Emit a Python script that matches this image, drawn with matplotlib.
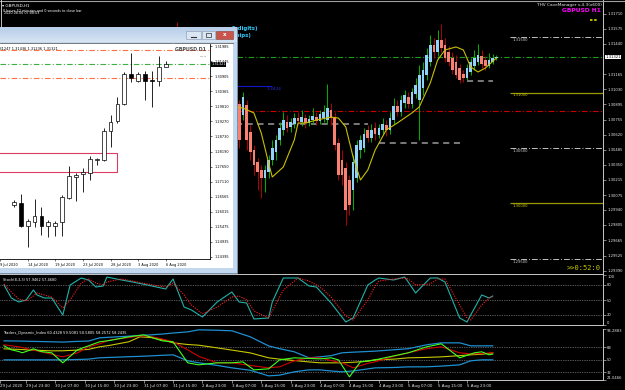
import numpy as np
import matplotlib
matplotlib.use("Agg")
import matplotlib.pyplot as plt
from matplotlib.patches import Rectangle
from matplotlib.lines import Line2D
from matplotlib.colors import LinearSegmentedColormap
from matplotlib.transforms import blended_transform_factory as blend

# ---------------- H1 chart (main window) ----------------
h1_bar = [46, 47, 48] + list(range(62, 135))
h1_open = [1.31339, 1.31520, 1.31385,
           1.30843, 1.30861, 1.30897, 1.30798, 1.30888, 1.30644, 1.30481, 1.30373, 1.30301, 1.30229,
           1.30283, 1.30391, 1.30463, 1.30572, 1.30662, 1.30734, 1.30689, 1.30716, 1.30770, 1.30734,
           1.30770, 1.30725, 1.30752, 1.30779, 1.30743, 1.30770, 1.30752, 1.30843, 1.30770, 1.30545,
           1.30391, 1.30319, 1.30211, 1.30120, 1.30229, 1.30481, 1.30500, 1.30662, 1.30590, 1.30680,
           1.30617, 1.30662, 1.30707, 1.30662, 1.30752, 1.30879, 1.30825, 1.30906, 1.30960, 1.30897,
           1.30987, 1.30933, 1.31041, 1.31159, 1.31276, 1.31430, 1.31366, 1.31475, 1.31430, 1.31366,
           1.31312, 1.31276, 1.31222, 1.31168, 1.31132, 1.31186, 1.31240, 1.31276, 1.31330, 1.31294,
           1.31240, 1.31276, 1.31312]
h1_high = [1.31565, 1.31637, 1.31475,
           1.30933, 1.30951, 1.30933, 1.31005, 1.30933, 1.30707, 1.30527, 1.30409, 1.30346, 1.30346,
           1.30436, 1.30572, 1.30617, 1.30734, 1.30825, 1.30798, 1.30770, 1.30816, 1.30825, 1.30843,
           1.30807, 1.30798, 1.30861, 1.30825, 1.30843, 1.30888, 1.31078, 1.30906, 1.30825, 1.30590,
           1.30481, 1.30373, 1.30256, 1.30436, 1.30572, 1.30617, 1.30680, 1.30707, 1.30716, 1.30734,
           1.30716, 1.30770, 1.30752, 1.30825, 1.30951, 1.30933, 1.30978, 1.31023, 1.31005, 1.31041,
           1.31132, 1.31249, 1.31276, 1.31403, 1.31520, 1.31493, 1.31565, 1.31619, 1.31493, 1.31421,
           1.31366, 1.31339, 1.31258, 1.31204, 1.31258, 1.31312, 1.31385, 1.31439, 1.31385, 1.31330,
           1.31357, 1.31348, 1.31339]
h1_low = [1.31294, 1.31294, 1.31159,
          1.30770, 1.30825, 1.30500, 1.30752, 1.30481, 1.30391, 1.30256, 1.30120, 1.30048, 1.30102,
          1.30229, 1.30346, 1.30391, 1.30527, 1.30617, 1.30644, 1.30644, 1.30680, 1.30707, 1.30698,
          1.30680, 1.30698, 1.30716, 1.30707, 1.30716, 1.30734, 1.30716, 1.30707, 1.30481, 1.30211,
          1.30165, 1.29804, 1.29895, 1.29940, 1.30193, 1.30409, 1.30463, 1.30554, 1.30554, 1.30572,
          1.30590, 1.30626, 1.30608, 1.30626, 1.30716, 1.30789, 1.30789, 1.30861, 1.30861, 1.30861,
          1.30951, 1.30572, 1.30978, 1.31114, 1.31240, 1.31312, 1.31330, 1.31366, 1.31276, 1.31240,
          1.31168, 1.31132, 1.31087, 1.31096, 1.31114, 1.31159, 1.31204, 1.31249, 1.31222, 1.31204,
          1.31222, 1.31258, 1.31294]
h1_close = [1.31520, 1.31385, 1.31204,
            1.30888, 1.30897, 1.30572, 1.30960, 1.30572, 1.30463, 1.30346, 1.30283, 1.30229, 1.30301,
            1.30391, 1.30500, 1.30572, 1.30680, 1.30752, 1.30680, 1.30734, 1.30770, 1.30743, 1.30779,
            1.30725, 1.30761, 1.30789, 1.30743, 1.30807, 1.30825, 1.30861, 1.30770, 1.30527, 1.30256,
            1.30256, 1.29940, 1.29985, 1.30373, 1.30527, 1.30572, 1.30626, 1.30590, 1.30662, 1.30626,
            1.30680, 1.30716, 1.30662, 1.30770, 1.30879, 1.30825, 1.30933, 1.30978, 1.30897, 1.31005,
            1.31068, 1.31159, 1.31204, 1.31339, 1.31430, 1.31366, 1.31475, 1.31403, 1.31312, 1.31276,
            1.31204, 1.31159, 1.31114, 1.31132, 1.31222, 1.31276, 1.31312, 1.31339, 1.31258, 1.31240,
            1.31294, 1.31312, 1.31321]

ma_bar = [63, 65, 68, 70, 72, 73, 76, 79, 80, 82, 85, 89, 91, 93, 95, 97, 99, 101, 104, 107,
          111, 113, 116, 118, 120, 123, 125, 127, 129, 131, 134]
ma_val = [1.30870, 1.30861, 1.30816, 1.30635, 1.30365, 1.30238, 1.30328, 1.30572, 1.30725, 1.30725,
          1.30752, 1.30779, 1.30770, 1.30689, 1.30418, 1.30211, 1.30301, 1.30481, 1.30662, 1.30725,
          1.30816, 1.30870, 1.31087, 1.31294, 1.31385, 1.31412, 1.31385, 1.31231, 1.31186, 1.31222,
          1.31312]

price_ticks = [1.31710, 1.31575, 1.31440, 1.31165, 1.31030, 1.30895, 1.30755, 1.30620, 1.30485,
               1.30350, 1.30215, 1.30075, 1.29940, 1.29805, 1.29665, 1.29525, 1.29390]
last_price = 1.31321
prev_low = 1.30830
round_levels = [1.31500, 1.31000, 1.30500, 1.30000, 1.29500]
round_kind = ["quarter", "half", "quarter", "half", "quarter"]
grey_seg_level = [1.30716, 1.30545, 1.31105]
grey_seg_from = [63, 102, 126]
grey_seg_to = [99, 124, 133]
blue_level = 1.31060

date_bars = [-1, 6, 14, 22, 30, 38, 46, 54, 62, 70, 78, 86, 94, 102, 110, 118, 126]
date_labels = ["29 Jul 2020", "29 Jul 23:00", "30 Jul 07:00", "30 Jul 15:00", "30 Jul 23:00",
               "31 Jul 07:00", "31 Jul 15:00", "2 Aug 23:00", "3 Aug 07:00", "3 Aug 15:00",
               "3 Aug 23:00", "4 Aug 07:00", "4 Aug 15:00", "4 Aug 23:00", "5 Aug 07:00",
               "5 Aug 15:00", "5 Aug 23:00"]

# ---------------- Stochastic ----------------
st_bar = [0, 2, 4, 6, 8, 9, 11, 13, 16, 18, 21, 23, 25, 27, 28, 32, 35, 39, 44, 46,
          49, 51, 54, 58, 62, 64, 66, 68, 72, 73, 76, 80, 83, 85, 87, 89, 93, 95, 99, 101,
          102, 106, 109, 110, 112, 116, 118, 120, 124, 126, 127, 130, 132, 133]
st_main = [80, 54, 46, 50, 70, 60, 54, 54, 20, 80, 94, 90, 76, 78, 96, 90, 86, 80, 72, 92,
           36, 30, 16, 46, 66, 46, 44, 12, 14, 46, 94, 94, 78, 76, 60, 44, 6, 14, 80, 90,
           94, 90, 96, 86, 64, 94, 94, 86, 14, 6, 20, 60, 54, 58]
st_sig = [82, 66, 52, 48, 58, 64, 60, 56, 34, 50, 84, 92, 84, 80, 86, 92, 88, 82, 76, 84,
          60, 40, 22, 36, 56, 58, 50, 28, 14, 28, 70, 94, 88, 80, 70, 56, 18, 10, 50, 78,
          88, 92, 94, 92, 80, 82, 92, 92, 40, 14, 10, 40, 54, 57]

# ---------------- Traders Dynamic Index ----------------
tdi_bar = [0, 4, 8, 13, 16, 20, 23, 26, 29, 34, 37, 40, 43, 46, 50, 53, 58, 62, 67, 72,
           75, 79, 83, 86, 89, 92, 95, 99, 101, 106, 110, 115, 119, 124, 127, 130, 133]
tdi_up = [77.3, 77.0, 76.5, 75.9, 75.5, 76.5, 77.0, 81.6, 82.5, 84.0, 85.0, 85.9, 87.0, 88.5,
          90.2, 93.1, 92.5, 91.7, 83.1, 70.0, 66.0, 61.5, 52.9, 54.3, 56.0, 60.1, 61.0, 62.0,
          62.5, 64.4, 66.0, 71.6, 74.4, 74.4, 70.1, 70.1, 70.1]
tdi_dn = [50, 50, 50, 50, 50, 50.5, 51, 52.9, 53.5, 54.5, 55, 55.7, 56.5, 57.2, 48.6, 45.7,
          42, 38.5, 35, 27, 28, 32.8, 35.6, 35.6, 34, 32.8, 34, 37, 38.5, 39, 39.9, 40, 41,
          42.8, 48.6, 50, 50]
tdi_mid = [65.8, 65, 64, 62.9, 63, 64, 65, 68.7, 71, 76, 83.1, 82, 79, 74.4, 72, 71, 67.2,
           64, 60, 52.9, 51, 49, 47, 45.7, 45.7, 45.7, 46.5, 48, 50, 51, 52.9, 53.5, 54.3,
           56, 57.2, 58, 60]
tdi_sig = [71.6, 68.7, 64, 58, 54.3, 60, 68.7, 73, 78.7, 82, 84.5, 83.5, 80, 75.9, 64.4, 55,
           45.7, 45.7, 42, 38.5, 40, 48.6, 52.9, 52.9, 49, 45.7, 38.5, 45, 47.1, 55, 60.1,
           66, 68.7, 60.1, 58.6, 59, 60.1]
rsi_bar = [0, 2, 4, 5, 8, 10, 13, 16, 20, 26, 29, 34, 38, 43, 46, 50, 53, 58, 62, 65,
           68, 72, 75, 79, 86, 89, 91, 94, 97, 101, 110, 115, 119, 124, 128, 130, 132, 133]
rsi_val = [70.1, 64.4, 62, 60.1, 65.8, 62, 60.1, 45.7, 64.4, 75.9, 78, 83.1, 85.9, 77.3,
           75.9, 45.7, 42.8, 45.7, 45.7, 47.1, 35.6, 37.1, 50, 52.9, 51.4, 52.9, 50, 25.6,
           47.1, 50, 60.1, 68.7, 73, 52.9, 60.1, 61.5, 57.2, 58.3]

# ---------------- D1 chart (floating window) ----------------
d1_open = [1.26266, 1.26338, 1.25511, 1.25655, 1.25870, 1.25511, 1.25511, 1.25655, 1.26518,
           1.27273, 1.27381, 1.27417, 1.27884, 1.27884, 1.28928, 1.29287, 1.29899, 1.30978,
           1.30726, 1.30978, 1.30762, 1.30726, 1.31247]
d1_high = [1.26446, 1.26661, 1.25763, 1.26482, 1.26194, 1.25727, 1.25691, 1.26626, 1.27669,
           1.27417, 1.27597, 1.28028, 1.27956, 1.29035, 1.29503, 1.30151, 1.31050, 1.31733,
           1.31050, 1.31086, 1.31086, 1.31625, 1.31436]
d1_low = [1.26194, 1.25475, 1.24755, 1.25475, 1.25187, 1.25115, 1.25151, 1.25151, 1.26482,
          1.26410, 1.26733, 1.27165, 1.27705, 1.27848, 1.28352, 1.29215, 1.29863, 1.30690,
          1.30690, 1.30043, 1.29791, 1.30546, 1.31236]
d1_close = [1.26374, 1.25511, 1.25691, 1.25870, 1.25511, 1.25655, 1.25619, 1.26554, 1.27309,
            1.27345, 1.27453, 1.27920, 1.27920, 1.28928, 1.29251, 1.29899, 1.30978, 1.30834,
            1.30978, 1.30726, 1.30726, 1.31230, 1.31321]
d1_ticks = [1.31985, 1.31445, 1.30905, 1.30365, 1.29810, 1.29270, 1.28730, 1.28190, 1.27650,
            1.27110, 1.26565, 1.26015, 1.25475, 1.24935, 1.24395]
d1_date_idx = [-2, 2, 6, 10, 14, 18, 22]
d1_date_labels = ["9 Jul 2020", "14 Jul 2020", "19 Jul 2020", "23 Jul 2020", "28 Jul 2020",
                  "3 Aug 2020", "6 Aug 2020"]
d1_orange = [1.31840, 1.30830]
zone_lo, zone_hi = 1.27453, 1.28136
zone_left, zone_right = -6, 14.9

# ------------------------------------------------------------------
W, H = 625, 390
fig = plt.figure(figsize=(W / 100, H / 100), dpi=100, facecolor="black")
plt.rcParams["font.family"] = "DejaVu Sans"
GREY = "#c8c8c8"
LBL = 2.7


def px_axes(x, y, w, h, z=1):
    ax = fig.add_axes([x / W, 1 - (y + h) / H, w / W, h / H])
    ax.set_zorder(z)
    return ax


def fxy(x, y):
    return x / W, 1 - y / H


axp = px_axes(0, 0, 603, 274)
axs = px_axes(0, 275, 603, 50)
axt = px_axes(0, 329, 603, 51)
for ax in (axp, axs, axt):
    ax.set_facecolor("black")
    ax.set_xlim(-1.09, 163.0)
    ax.spines["left"].set_visible(False)
    ax.spines["top"].set_visible(False)
    for s in ("right", "bottom"):
        ax.spines[s].set_color(GREY)
        ax.spines[s].set_linewidth(0.7)
    ax.yaxis.tick_right()
    ax.tick_params(axis="y", colors="#e8e8e8", labelsize=LBL, length=2, width=0.4, pad=1)
    ax.tick_params(axis="x", bottom=False, labelbottom=False)

# ---- price pane
axp.set_ylim(1.29362, 1.31836)
axp.set_yticks(price_ticks)
axp.set_yticklabels([f"{v:.5f}" for v in price_ticks])

dd = (0, (5, 2, 1, 2))
axp.axhline(last_price, xmin=237 / 603, color="#1a9e1a", lw=0.8, ls=dd, zorder=1)
axp.axhline(prev_low, xmin=237 / 603, color="#c80000", lw=0.8, ls=dd, zorder=1)
for lv, a, b in zip(grey_seg_level, grey_seg_from, grey_seg_to):
    axp.hlines(lv, a, b, colors="#9a9a9a", lw=1.1, ls=(0, (4, 3)), zorder=1)
axp.hlines(blue_level, 55, 73, colors="#1515c8", lw=0.8, zorder=2)
axp.text(71.5, blue_level - 0.00012, "1.3426", color="#2a2ad0", fontsize=3.2, va="top", zorder=2)

for lv, kind in zip(round_levels, round_kind):
    if kind == "half":
        axp.hlines(lv, 137.8, 163, colors="#9a9a00", lw=0.9, zorder=2)
        col = "#c8c800"
    else:
        axp.hlines(lv, 137.8, 163, colors="#c0c0c0", lw=0.7, ls=(0, (6, 2, 1, 2)), zorder=2)
        col = "#d0d0d0"
    axp.annotate(f"{lv:.5f}", (138.3, lv), xytext=(0, -0.6), textcoords="offset points",
                 va="top", ha="left", fontsize=LBL, color=col)

axp.hlines(1.31655, 159.4, 161.6, colors="#d8d800", lw=1.2, ls=(0, (1.5, 1)))

o, hi, lo, c = map(np.array, (h1_open, h1_high, h1_low, h1_close))
up = c >= o
axp.vlines(h1_bar, lo, hi, colors=np.where(up, "#00b400", "#b40000"), lw=0.7, zorder=3)
axp.bar(h1_bar, np.maximum(np.abs(c - o), 0.00004), bottom=np.minimum(o, c), width=0.72,
        color=np.where(up, "#8fd3f8", "#fa8072"), lw=0, zorder=4)
axp.plot(ma_bar, ma_val, color="#c8c000", lw=0.8, zorder=5)

tr = blend(axp.transAxes, axp.transData)
axp.text(1.004, last_price, f"{last_price:.5f}", transform=tr, fontsize=LBL, color="black",
         va="center", ha="left", bbox=dict(boxstyle="square,pad=0.12", fc="white", ec="none"))

# info texts of the main chart, partly hidden by the floating window
axp.text(*fxy(258, 26.2), " 5 digits)", transform=fig.transFigure,
         color="#33ccff", fontsize=3.9, fontweight="bold", ha="right", va="top")
axp.text(*fxy(251, 32.5), "(pips)", transform=fig.transFigure,
         color="#33ccff", fontsize=3.9, fontweight="bold", ha="right", va="top")

fig.text(*fxy(2, 6), "\u25be GBPUSD,H1", color="white", fontsize=3.0, va="center")
fig.text(*fxy(3, 11), "0 hours 52 minutes and 0 seconds to close bar", color="white",
         fontsize=2.4, va="center")
fig.text(*fxy(4, 13.5), "2020.08.06 07:08:03", color="white", fontsize=2.4, va="center")
fig.text(*fxy(602, 5), "THV CaveManager v.4.3(x600)", color="#e8e8e8", fontsize=3.1,
         ha="right", va="center")
fig.text(*fxy(601, 11), "GBPUSD H1", color="#ff00ff", fontsize=4.3, fontweight="bold",
         ha="right", va="center")
fig.text(*fxy(567, 268), ">>0:52:0", color="#c8c800", fontsize=5, family="DejaVu Sans Mono",
         va="center")
fig.add_artist(Line2D([0, 1], [1 - 0.6 / H] * 2, color="#a0a0a0", lw=0.8))
fig.add_artist(Line2D([1.2 / W] * 2, [1 - 27 / H, 1], color="#e0e0e0", lw=0.6))

# ---- stochastic pane
axs.set_ylim(0, 100)
for lv in (80, 50, 20):
    axs.axhline(lv, color="#a8a8a8", lw=0.5, ls=(0, (1, 1.5)))
axs.plot(st_bar, st_main, color="#20b2aa", lw=0.8)
axs.plot(st_bar, st_sig, color="#ff2020", lw=0.8, ls=(0, (1, 1.2)))
axs.set_yticks([100, 80, 50, 20, 0])
axs.set_yticklabels(["100", "80", "50", "20", "0"])
for t in axs.get_yticklabels():
    if t.get_text() == "100":
        t.set_va("top")
    elif t.get_text() == "0":
        t.set_va("bottom")
axs.text(0.005, 0.94, "Stoch(8,3,3) 57.9462 57.4680", transform=axs.transAxes,
         color="white", fontsize=2.5, va="top")

# ---- TDI pane
axt.set_ylim(21.0466, 94.2883)
for lv in (68, 50, 32):
    axt.axhline(lv, color="#a8a8a8", lw=0.5, ls=(0, (1, 1.5)))
axt.plot(tdi_bar, tdi_up, color="#1e8fd0", lw=0.9)
axt.plot(tdi_bar, tdi_dn, color="#1e8fd0", lw=0.9)
axt.plot(tdi_bar, tdi_mid, color="#c8c800", lw=0.8)
axt.plot(tdi_bar, tdi_sig, color="#d00000", lw=0.8)
axt.plot(rsi_bar, rsi_val, color="#40ff20", lw=0.8)
tdi_ticks = [94.2883, 68, 50, 32, 21.0466]
axt.set_yticks(tdi_ticks)
axt.set_yticklabels(["94.2883", "68", "50", "32", "21.0466"])
for t in axt.get_yticklabels():
    if t.get_text() == "94.2883":
        t.set_va("top")
    elif t.get_text() == "21.0466":
        t.set_va("bottom")
axt.text(0.005, 0.97, "Traders_Dynamic_Index 60.4328 59.5081 50.5805 58.2572 58.2435",
         transform=axt.transAxes, color="white", fontsize=2.6, va="top")
axt.set_xticks(date_bars)
axt.set_xticklabels(date_labels)
axt.tick_params(axis="x", bottom=True, labelbottom=True, colors="#e8e8e8", labelsize=2.9,
                length=2, width=0.4, pad=1.2)
for t in axt.get_xticklabels():
    t.set_ha("left")

# ---------------- floating D1 window ----------------
ov = fig.add_axes([0, 0, 1, 1])
ov.set_zorder(5)
ov.patch.set_alpha(0)
ov.axis("off")
ov.add_patch(Rectangle((-5, 27), 242, 246, fc="#c3d7ee", ec="#7e98b8", lw=0.6))
grad = np.linspace(0, 1, 32).reshape(-1, 1)
cm = LinearSegmentedColormap.from_list("tb", ["#b7cde8", "#d6e4f4"])
ov.imshow(grad, extent=(-4.5, 236.5, 42.5, 27.5), aspect="auto", cmap=cm, zorder=1)
ov.add_patch(Rectangle((0, 43), 233, 225, fc="white", ec="none", zorder=2))
ov.plot([0, 233], [43, 43], color="#606060", lw=0.6, zorder=3)
ov.add_patch(Rectangle((186, 31), 15, 8, fc="#dbe6f3", ec="#8395ad", lw=0.4, zorder=3))
ov.plot([191, 196], [36.5, 36.5], color="#303030", lw=0.8, zorder=4)
ov.add_patch(Rectangle((202, 31), 13, 8, fc="#dbe6f3", ec="#8395ad", lw=0.4, zorder=3))
ov.add_patch(Rectangle((206, 33.3), 5, 3.6, fc="none", ec="#303030", lw=0.5, zorder=4))
ov.add_patch(Rectangle((216, 31), 17, 8, fc="#c8544c", ec="#8a3a36", lw=0.4, zorder=3))
ov.text(224.5, 35, "x", color="white", fontsize=4, fontweight="bold", ha="center",
        va="center", zorder=4)
ov.plot([173], [45], marker="v", ms=2, color="#909090", zorder=4)
ov.set_xlim(0, W)
ov.set_ylim(H, 0)

axd = px_axes(0, 44, 210, 215, z=6)
axd.set_facecolor("white")
axd.set_xlim(-0.27, 28.4)
axd.set_ylim(1.24323, 1.32057)
axd.spines["left"].set_visible(False)
axd.spines["top"].set_visible(False)
for s in ("right", "bottom"):
    axd.spines[s].set_color("black")
    axd.spines[s].set_linewidth(0.6)
axd.yaxis.tick_right()
axd.set_yticks(d1_ticks)
axd.set_yticklabels([f"{v:.5f}" for v in d1_ticks])
axd.tick_params(axis="y", colors="black", labelsize=2.5, length=1.5, width=0.4, pad=1.5)
axd.set_xticks(d1_date_idx)
axd.set_xticklabels(d1_date_labels)
axd.tick_params(axis="x", colors="black", labelsize=2.5, length=1.5, width=0.4, pad=1.2)
for t in axd.get_xticklabels():
    t.set_ha("left")

for lv in d1_orange:
    axd.axhline(lv, color="#ff7043", lw=0.8, ls=dd, zorder=1)
axd.axhline(last_price, color="#3cb043", lw=0.8, ls=dd, zorder=1)
axd.add_patch(Rectangle((zone_left, zone_lo), zone_right - zone_left, zone_hi - zone_lo,
                        fill=False, ec="#dc3c64", lw=0.8, zorder=2))
d1_idx = np.arange(len(d1_close))
do, dh, dl, dc = map(np.array, (d1_open, d1_high, d1_low, d1_close))
axd.vlines(d1_idx, dl, dh, colors="black", lw=0.6, zorder=3)
axd.bar(d1_idx, np.maximum(np.abs(dc - do), 0.00012), bottom=np.minimum(do, dc), width=0.55,
        color=np.where(dc >= do, "white", "black"), edgecolor="black", lw=0.5, zorder=4)
axd.text(-0.019, 0.988, "1.31247 1.31436 1.31236 1.31321", transform=axd.transAxes,
         fontsize=2.5, color="black", va="top")
axd.text(0.835, 0.988, "GBPUSD D1", transform=axd.transAxes, fontsize=3.4, color="#4a4a4a",
         fontweight="bold", va="top")
axd.text(0.948, 0.945, ".....", transform=axd.transAxes, fontsize=3.4, color="#606060",
         va="center")
trd = blend(axd.transAxes, axd.transData)
axd.text(1.006, last_price, f"{last_price:.5f}", transform=trd, fontsize=2.5, color="white",
         va="center", ha="left", bbox=dict(boxstyle="square,pad=0.15", fc="black", ec="none"))

fig.savefig("out.png", dpi=100, facecolor="black")
